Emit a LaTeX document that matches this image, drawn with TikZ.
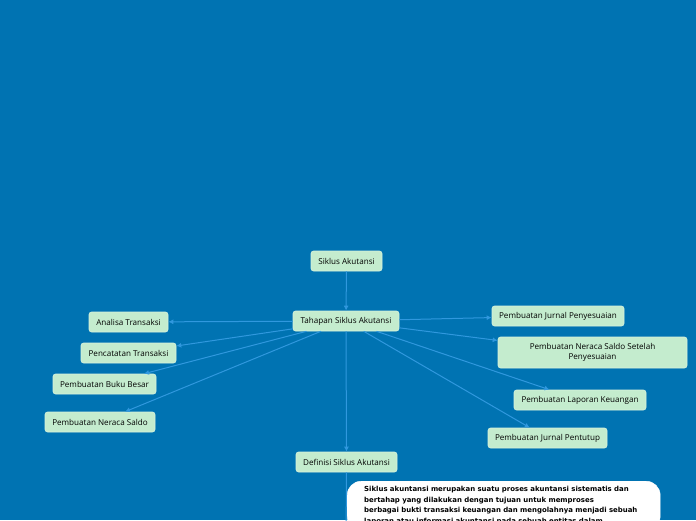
\documentclass[tikz,border=0pt]{standalone}
\usepackage{fontspec}
\setmainfont{Open Sans}
\newfontfamily\bodyfont{DejaVu Sans}
\usetikzlibrary{arrows.meta}
\definecolor{mapblue}{RGB}{0,115,178}
\definecolor{mapgreen}{RGB}{196,236,206}
\definecolor{maplink}{RGB}{48,152,222}
\tikzset{
  tnode/.style ={draw=mapgreen!70!white,line width=0.6pt,fill=mapgreen,rounded corners=2.5pt,
                 minimum height=20pt,inner xsep=5pt,inner ysep=2pt,text=black,
                 font=\fontsize{8.1}{10}\selectfont},
  link/.style  ={maplink,line width=1pt,-{Latex[length=5pt,width=5pt]}},
  plain/.style ={maplink,line width=1pt},
  bodybox/.style={fill=white,draw=white,rounded corners=14pt,anchor=north west,
                 text width=279pt,inner xsep=17pt,inner ysep=5.5pt,align=left,
                 font=\bodyfont\bfseries\fontsize{6.95}{10.4}\selectfont},
}
\begin{document}
\begin{tikzpicture}[x=1pt,y=-1pt]
  \useasboundingbox (0,0) rectangle (696,520);
  \clip (0,0) rectangle (696,520);
  \fill[mapblue] (0,0) rectangle (696,520);
  % main chain
  \node[tnode,minimum width=71]  (sik) at (346.5,261) {Siklus Akutansi};
  \node[tnode,minimum width=106] (tah) at (346,321)   {Tahapan Siklus Akutansi};
  \node[tnode,minimum width=101] (def) at (346.5,462) {Definisi Siklus Akutansi};
  % left branch
  \node[tnode,minimum width=79]  (ana) at (128.5,322) {Analisa Transaksi};
  \node[tnode,minimum width=95]  (pen) at (128.5,353) {Pencatatan Transaksi};
  \node[tnode,minimum width=103] (buk) at (104.5,384) {Pembuatan Buku Besar};
  \node[tnode,minimum width=110] (ner) at (100,422)   {Pembuatan Neraca Saldo};
  % right branch
  \node[tnode,minimum width=132] (jur) at (558,316)   {Pembuatan Jurnal Penyesuaian};
  \node[tnode,minimum width=189,minimum height=31,align=center] (nss) at (592.5,352.5)
       {Pembuatan Neraca Saldo Setelah\\Penyesuaian};
  \node[tnode,minimum width=132] (lap) at (580,400)   {Pembuatan Laporan Keuangan};
  \node[tnode,minimum width=119] (pnt) at (547.5,438) {Pembuatan Jurnal Pentutup};
  % connectors
  \draw[link] (sik) -- (tah);
  \draw[link] (tah) -- (def);
  \foreach \n in {ana,pen,buk,ner,jur,nss,lap,pnt}
    \draw[link] (tah) -- (\n);
  \coordinate (bodytop) at (346,540);
  \draw[plain] (def.south) -- (bodytop);
  \node[bodybox] (body) at (347,481)
    {Siklus akuntansi merupakan suatu proses akuntansi sistematis dan\\
     bertahap yang dilakukan dengan tujuan untuk memproses\\
     berbagai bukti transaksi keuangan dan mengolahnya menjadi sebuah\\
     laporan atau informasi akuntansi pada sebuah entitas dalam};
\end{tikzpicture}
\end{document}
